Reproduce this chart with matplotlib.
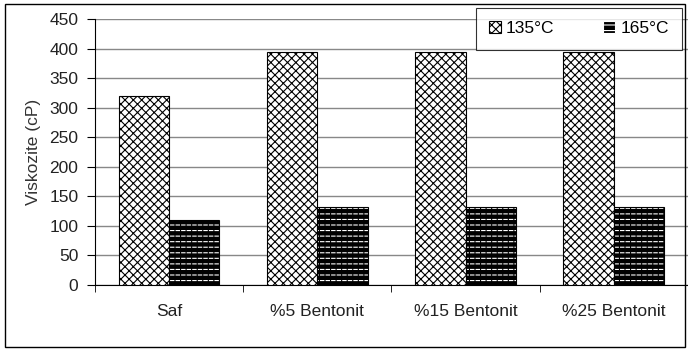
import numpy as np
import matplotlib.pyplot as plt
from matplotlib.patches import Rectangle

plt.rcParams["font.family"] = ["Liberation Sans", "DejaVu Sans"]
plt.rcParams["hatch.linewidth"] = 0.8

categories = ["Saf", "%5 Bentonit", "%15 Bentonit", "%25 Bentonit"]
visc_135 = [320, 394, 394, 394]
visc_165 = [110, 132, 132, 132]
yticks = [0, 50, 100, 150, 200, 250, 300, 350, 400, 450]

fig = plt.figure(figsize=(6.88, 3.51), dpi=100)
ax = fig.add_axes([0.138, 0.188, 0.862, 0.758])

x = np.arange(len(categories))
w = 0.34

# 135°C: white bars with cross hatch
ax.bar(x - w / 2, visc_135, w, color="white", edgecolor="black",
       hatch="xxxx", linewidth=0.8, zorder=3)
# 165°C: black bars with short white dashes (white rows cut by black columns)
ax.bar(x + w / 2, visc_165, w, color="black", edgecolor="white",
       hatch="---", linewidth=0, zorder=3)
ax.bar(x + w / 2, visc_165, w, fill=False, edgecolor="black",
       hatch="|||", linewidth=0, zorder=4)
ax.bar(x + w / 2, visc_165, w, fill=False, edgecolor="black",
       linewidth=0.8, zorder=5)

ax.set_xlim(-0.5, len(categories) - 0.5)
ax.set_ylim(0, 450)
ax.set_yticks(yticks)
ax.set_xticks(x)
ax.set_xticklabels(categories)
ax.set_xticks(np.arange(len(categories) + 1) - 0.5, minor=True)
ax.tick_params(axis="x", which="major", length=0, pad=14, labelsize=12.5,
               labelcolor="#222222")
ax.tick_params(axis="x", which="minor", length=5, direction="out")
ax.tick_params(axis="y", length=6, direction="out", labelsize=12.5,
               labelcolor="#222222", pad=6)
ax.set_ylabel("Viskozite (cP)", fontsize=12.5, color="#333333", labelpad=6)

ax.yaxis.grid(True, color="#888888", linewidth=1.0, zorder=0)
ax.set_axisbelow(True)
for side in ["top", "right"]:
    ax.spines[side].set_visible(False)
ax.spines["left"].set_linewidth(0.8)
ax.spines["bottom"].set_linewidth(0.8)

h1 = Rectangle((0, 0), 1, 1, facecolor="white", edgecolor="black",
               hatch="xxxx", linewidth=0.8)
h2 = Rectangle((0, 0), 1, 1, facecolor="black", edgecolor="white",
               hatch="---", linewidth=0.8)
leg = ax.legend([h1, h2], ["135°C", "165°C"], ncol=2, loc="upper right",
                bbox_to_anchor=(0.99, 1.04), fontsize=12.5, frameon=True,
                fancybox=False, edgecolor="black", handlelength=0.7,
                handleheight=0.7, handletextpad=0.3, columnspacing=2.8,
                borderpad=0.75, borderaxespad=0)
leg.get_frame().set_linewidth(0.8)

# outer frame around the whole chart
fig.patches.append(Rectangle((0.007, 0.012), 0.988, 0.978,
                             transform=fig.transFigure, fill=False,
                             edgecolor="black", linewidth=1.0))

fig.savefig("out.png", dpi=100)
